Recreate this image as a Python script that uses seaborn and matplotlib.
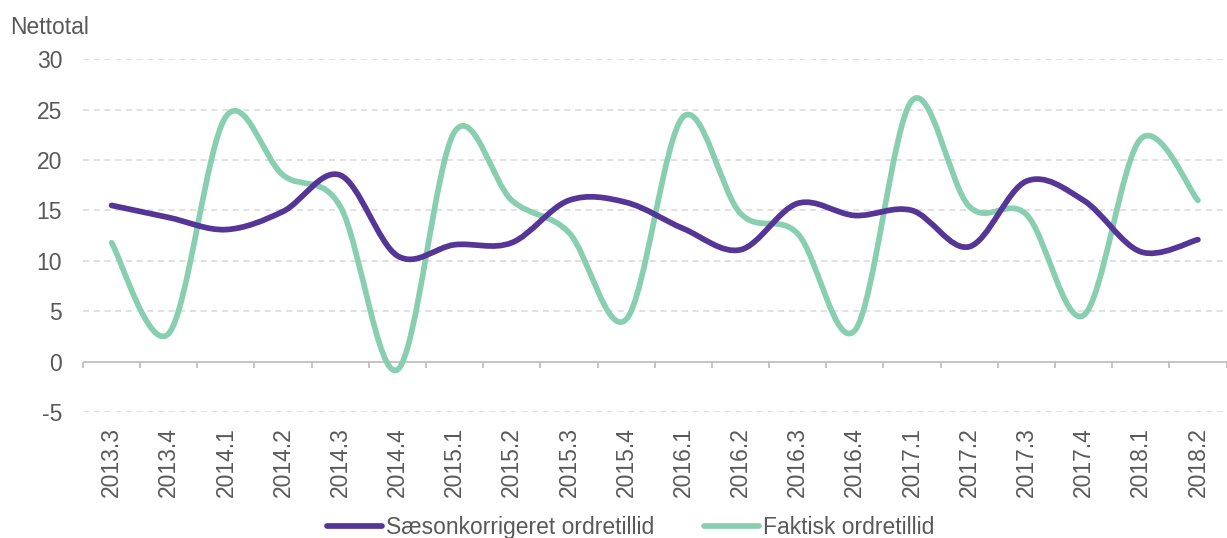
import numpy as np
import pandas as pd
import matplotlib
matplotlib.use("Agg")
import matplotlib.pyplot as plt
from matplotlib.path import Path
from matplotlib.patches import PathPatch
from matplotlib.lines import Line2D
import seaborn as sns

kvartaler = ["2013.3", "2013.4", "2014.1", "2014.2", "2014.3", "2014.4",
             "2015.1", "2015.2", "2015.3", "2015.4", "2016.1", "2016.2",
             "2016.3", "2016.4", "2017.1", "2017.2", "2017.3", "2017.4",
             "2018.1", "2018.2"]
saesonkorrigeret = [15.5, 14.3, 13.1, 14.9, 18.5, 10.5, 11.6, 11.8, 16.0, 15.8,
                    13.2, 11.1, 15.7, 14.5, 15.0, 11.4, 17.9, 16.0, 10.9, 12.1]
faktisk = [11.8, 2.8, 24.3, 18.5, 15.4, -0.8, 22.8, 16.0, 12.8, 4.2,
           24.3, 14.7, 12.7, 3.1, 25.9, 15.4, 14.6, 4.6, 22.1, 16.0]

serier = ["Sæsonkorrigeret ordretillid", "Faktisk ordretillid"]
farver = ["#553596", "#88CFB1"]
tekst = "#595959"
fs = 16.5
lw = 4.1

df = pd.DataFrame({
    "pos": list(range(len(kvartaler))) * 2,
    "værdi": saesonkorrigeret + faktisk,
    "serie": [serier[0]] * len(kvartaler) + [serier[1]] * len(kvartaler),
})

sns.set_style("white")
plt.rcParams["font.family"] = ["Liberation Sans", "DejaVu Sans"]
plt.rcParams["axes.unicode_minus"] = False

fig = plt.figure(figsize=(12.27, 5.38), dpi=100)
ax = fig.add_axes([0.0676, 0.234, 0.932, 0.656])

sns.lineplot(data=df, x="pos", y="værdi", hue="serie", palette=farver,
             linewidth=lw, legend=False, ax=ax)


# Excel-agtig udglatning: kubisk bezier gennem datapunkterne
def glat_sti(x, y):
    p = np.column_stack([x, y])
    p_ext = np.vstack([p[0], p, p[-1]])
    verts = [p[0]]
    codes = [Path.MOVETO]
    for i in range(len(p) - 1):
        p0, p1, p2, p3 = p_ext[i], p_ext[i + 1], p_ext[i + 2], p_ext[i + 3]
        verts += [p1 + (p2 - p0) / 6, p2 - (p3 - p1) / 6, p2]
        codes += [Path.CURVE4] * 3
    return Path(verts, codes)


# lilla linje ligger øverst
for linje, farve, z in zip(list(ax.lines), farver, [4, 3]):
    sti = glat_sti(linje.get_xdata(), linje.get_ydata())
    ax.add_patch(PathPatch(sti, facecolor="none", edgecolor=farve, lw=lw,
                           capstyle="round", joinstyle="round", zorder=z))
    linje.set_visible(False)

ax.set_xlim(-0.5, len(kvartaler) - 0.5)
ax.set_ylim(-5, 30)
ax.set_yticks(range(-5, 31, 5))
ax.set_xticks(range(len(kvartaler)))
ax.set_xticklabels(kvartaler, rotation=90, va="top", ha="center")
ax.tick_params(axis="both", length=0, labelsize=fs, labelcolor=tekst)
ax.tick_params(axis="x", pad=11)
ax.tick_params(axis="y", pad=15)
ax.set_xlabel("")
ax.set_ylabel("")

for s in ax.spines.values():
    s.set_visible(False)

for v in range(-5, 31, 5):
    if v != 0:
        ax.axhline(v, color="#D9D9D9", lw=1.1, ls=(0, (4, 3)), zorder=1)
ax.axhline(0, color="#BFBFBF", lw=1.3, zorder=2)
ax.vlines(np.arange(len(kvartaler) + 1) - 0.5, -0.65, 0, color="#BFBFBF",
          lw=1.3, zorder=2, clip_on=False)

fig.text(0.008, 1 - 28 / 538, "Nettotal", ha="left", va="center",
         fontsize=fs, color=tekst)

handles = [Line2D([], [], color=f, lw=lw, solid_capstyle="round") for f in farver]
fig.legend(handles, serier, loc="center", bbox_to_anchor=(0.514, 0.019),
           ncol=2, frameon=False, fontsize=fs, handlelength=2.4,
           handletextpad=0.15, columnspacing=2.2, labelcolor=tekst,
           borderpad=0, borderaxespad=0)

fig.savefig("out.png", dpi=100)
